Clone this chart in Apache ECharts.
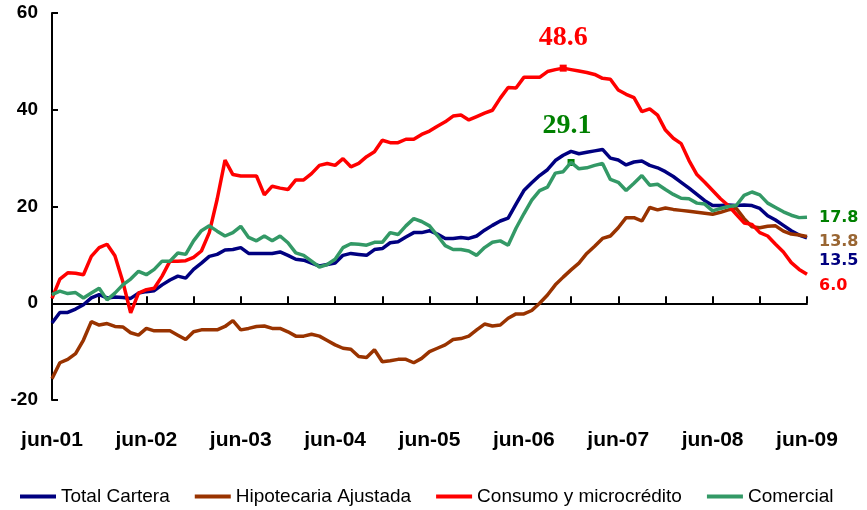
<!DOCTYPE html>
<html>
<head>
<meta charset="utf-8">
<script src="https://cdn.jsdelivr.net/npm/echarts@6/dist/echarts.min.js"></script>
<style>html,body{margin:0;padding:0;background:#fff;}#c{width:867px;height:510px;}</style>
</head>
<body>
<div id="c"></div>
<script>
const monthNames = ['ene','feb','mar','abr','may','jun','jul','ago','sep','oct','nov','dic'];
const categories = [];
for (let k = 0; k < 97; k++) {
  const m = (5 + k) % 12;
  const y = 2001 + Math.floor((5 + k) / 12);
  categories.push(monthNames[m] + '-' + String(y % 100).padStart(2, '0'));
}
const tickLabels = ['jun-01','jun-02','jun-03','jun-04','jun-05','jun-06','jun-07','jun-08','jun-09'];

const totalCartera = [
 -4.1,-1.9,-1.9,-1.2,-0.3,1.1,1.8,1.1,1.3,1.2,1.0,2.1,
 2.4,2.6,3.8,4.8,5.6,5.2,7.0,8.3,9.7,10.1,11.0,11.1,
 11.5,10.3,10.3,10.3,10.3,10.6,9.9,9.1,8.9,8.3,7.7,8.0,
 8.3,9.9,10.3,10.1,9.9,11.1,11.3,12.5,12.7,13.7,14.6,14.6,
 15.0,14.3,13.4,13.4,13.6,13.4,13.9,15.1,16.1,17.0,17.6,20.5,
 23.3,24.9,26.4,27.6,29.5,30.6,31.4,30.9,31.2,31.5,31.8,30.0,
 29.6,28.6,29.2,29.4,28.5,28.0,27.2,26.2,25.0,23.8,22.5,21.2,
 20.2,20.2,20.3,20.2,20.3,20.2,19.6,18.1,17.2,16.1,15.0,14.1,
 13.5];
const hipotecaria = [
 -15.6,-12.3,-11.6,-10.4,-7.6,-3.8,-4.5,-4.2,-4.8,-4.9,-6.1,-6.6,
 -5.2,-5.7,-5.7,-5.7,-6.6,-7.5,-5.9,-5.5,-5.5,-5.5,-4.8,-3.6,
 -5.5,-5.2,-4.8,-4.7,-5.2,-5.2,-5.9,-6.8,-6.8,-6.4,-6.8,-7.7,
 -8.6,-9.3,-9.5,-11.0,-11.2,-9.6,-12.1,-11.9,-11.6,-11.6,-12.3,-11.4,
 -10.0,-9.3,-8.6,-7.5,-7.3,-6.8,-5.5,-4.3,-4.7,-4.5,-3.1,-2.2,
 -2.2,-1.5,0.0,1.7,3.8,5.4,6.9,8.3,10.3,11.8,13.4,13.9,
 15.6,17.7,17.7,17.0,19.8,19.3,19.7,19.4,19.2,19.0,18.8,18.6,
 18.4,18.8,19.3,19.6,17.5,15.8,15.6,15.9,16.0,14.9,14.3,14.1,
 13.8];
const consumo = [
 1.0,5.0,6.3,6.2,5.9,9.7,11.5,12.2,9.8,4.5,-2.0,2.1,
 2.8,3.1,5.6,8.7,8.7,8.8,9.5,10.8,14.6,21.5,29.6,26.6,
 26.3,26.3,26.3,22.4,24.2,23.8,23.5,25.5,25.5,26.8,28.5,28.9,
 28.5,29.9,28.2,28.9,30.3,31.3,33.7,33.2,33.2,33.9,33.9,34.9,
 35.6,36.6,37.5,38.7,38.9,37.9,38.6,39.3,39.9,42.4,44.6,44.5,
 46.7,46.7,46.7,47.9,48.3,48.6,48.3,48.0,47.7,47.3,46.5,46.3,
 44.1,43.2,42.5,39.6,40.2,38.9,35.8,34.1,33.0,29.5,26.6,25.0,
 23.3,21.6,20.2,18.4,16.6,16.3,14.6,13.9,12.2,10.6,8.4,7.0,
 6.0];
const comercial = [
 1.8,2.5,2.0,2.2,1.1,2.1,3.1,0.7,2.1,3.8,5.0,6.6,
 5.9,7.0,8.7,8.7,10.4,10.1,12.9,15.0,16.0,14.9,13.9,14.6,
 15.9,13.6,12.9,13.9,12.9,13.9,12.5,10.4,9.9,8.7,7.5,8.0,
 9.1,11.5,12.3,12.2,12.0,12.6,12.6,14.6,14.2,16.0,17.5,16.9,
 16.0,14.0,11.9,11.1,11.1,10.8,9.9,11.5,12.6,12.9,12.0,15.5,
 18.5,21.3,23.3,24.0,26.9,27.2,29.1,27.8,28.0,28.5,28.9,25.6,
 25.0,23.3,24.8,26.4,24.4,24.6,23.5,22.5,21.7,21.6,20.7,20.5,
 19.1,19.6,20.0,20.2,22.3,23.0,22.4,20.7,19.8,18.9,18.2,17.7,
 17.8];

const seriesNames = ['Total Cartera','Hipotecaria Ajustada','Consumo y microcrédito','Comercial'];
const seriesColors = ['#000080','#993300','#FF0000','#339966'];
const endLabelColors = ['#000080','#996633','#FF0000','#008000'];
const endLabelOffsets = [[0,23],[0,5],[0,12],[0,1]];
const seriesData = [totalCartera, hipotecaria, consumo, comercial];

const FONT = '"Liberation Sans", Arial, sans-serif';

const series = seriesData.map((d, k) => ({
  name: seriesNames[k],
  type: 'line',
  xAxisIndex: 0,
  data: d,
  showSymbol: false,
  symbol: 'none',
  lineStyle: { width: 3.5, color: seriesColors[k] },
  itemStyle: { color: seriesColors[k] },
  z: 2 + k,
  endLabel: {
    show: true,
    formatter: p => Number(p.value).toFixed(1),
    color: endLabelColors[k],
    fontFamily: '"DejaVu Sans", Verdana, sans-serif',
    fontWeight: 'bold',
    fontSize: 16,
    distance: 12,
    offset: endLabelOffsets[k]
  }
}));
series[2].markPoint = {
  symbol: 'rect', symbolSize: 7,
  itemStyle: { color: '#FF0000' },
  data: [{ type: 'max' }],
  label: {
    show: true, position: 'top', distance: 13,
    formatter: p => Number(p.value).toFixed(1),
    color: '#FF0000', fontFamily: '"Liberation Serif", "Times New Roman", serif',
    fontWeight: 'bold', fontSize: 28
  }
};
series[3].markPoint = {
  symbol: 'rect', symbolSize: 7,
  itemStyle: { color: '#008000' },
  data: [{ type: 'max' }],
  label: {
    show: true, position: 'top', distance: 19, offset: [-4, 0],
    formatter: p => Number(p.value).toFixed(1),
    color: '#008000', fontFamily: '"Liberation Serif", "Times New Roman", serif',
    fontWeight: 'bold', fontSize: 28
  }
};

const chart = echarts.init(document.getElementById('c'), null, { renderer: 'canvas' });
chart.setOption({
  animation: false,
  backgroundColor: '#ffffff',
  grid: { left: 52, right: 60, top: 13, bottom: 110, containLabel: false },
  legend: {
    data: seriesNames,
    left: 15, top: 482,
    icon: 'rect', itemWidth: 36, itemHeight: 4, itemGap: 25,
    textStyle: { fontFamily: FONT, fontSize: 19, color: '#000' }
  },
  xAxis: [
    {
      type: 'category', data: categories, boundaryGap: false,
      axisLine: { onZero: true, lineStyle: { color: '#000', width: 2 } },
      axisTick: { show: true, inside: true, length: 7, interval: (i) => i % 6 === 0, lineStyle: { color: '#000', width: 2 } },
      axisLabel: { show: false },
      splitLine: { show: false }
    },
    {
      type: 'category', data: categories, boundaryGap: false, position: 'bottom',
      axisLine: { show: false, onZero: false },
      axisTick: { show: false },
      axisLabel: {
        show: true, interval: (i, v) => tickLabels.indexOf(v) >= 0,
        margin: 30, fontFamily: FONT, fontWeight: 'bold', fontSize: 21, color: '#000'
      },
      splitLine: { show: false }
    }
  ],
  yAxis: {
    type: 'value', min: -20, max: 60, interval: 20,
    axisLine: { show: true, lineStyle: { color: '#000', width: 2 } },
    axisTick: { show: true, inside: true, length: 6, lineStyle: { color: '#000', width: 2 } },
    axisLabel: { fontFamily: FONT, fontWeight: 'bold', fontSize: 19, color: '#000', margin: 14 },
    splitLine: { show: false }
  },
  series: series
});
</script>
</body>
</html>
